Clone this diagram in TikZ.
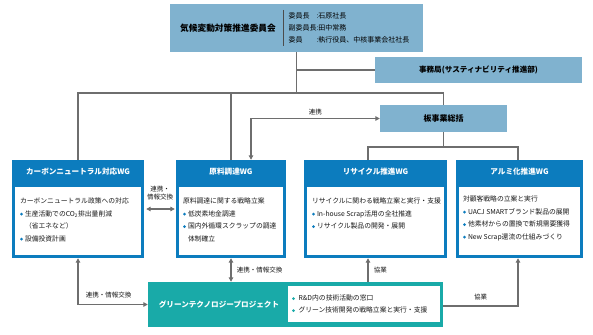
\documentclass[tikz,border=0pt]{standalone}
\usepackage{fontspec}
\setmainfont{Noto Sans CJK JP}
\usetikzlibrary{arrows.meta,positioning}

\definecolor{boardblue}{RGB}{128,178,207}
\definecolor{wgblue}{RGB}{12,124,190}
\definecolor{gtpteal}{RGB}{25,170,168}
\definecolor{linkgray}{RGB}{110,110,110}

\newcommand{\bul}[1][wgblue]{\tikz[baseline=-0.55ex]\fill[#1] (0,0) circle (1.5pt);\hspace{2pt}}
\newcommand{\bulsp}{\hphantom{\bul}}

\begin{document}
\begin{tikzpicture}[x=1pt, y=-1pt, >={Triangle[length=4.5pt,width=4.5pt]},
font=\fontsize{6.8}{12.5}\selectfont,
link/.style={draw=linkgray, line width=1.2pt},
lightbox/.style={fill=boardblue, inner sep=0pt},
wg/.style={fill=wgblue, inner sep=0pt, minimum height=98pt},
wgtitle/.style={text=white, font=\fontsize{7.6}{9}\selectfont\bfseries},
wgbody/.style={fill=white, inner sep=0pt, minimum height=68pt},
wgtext/.style={anchor=north west, align=left, inner sep=2pt, text=black!90},
note/.style={font=\fontsize{6.5}{8}\selectfont, text=black!90}]

    \useasboundingbox (0,0) rectangle (593,334);

    % committee and secretariat
    \node[lightbox, minimum width=253pt, minimum height=48pt] (COMMITTEE) at (296.5,28) {};
    \node[font=\fontsize{8.7}{10}\selectfont\bfseries] (COMMITTEE_T) at (228,28) {気候変動対策推進委員会};
    \draw[black!70, line width=0.6pt] (283,10) -- (283,46);
    \node[anchor=west, font=\fontsize{7}{12}\selectfont] (COMMITTEE_M) at (285,28)
        {\begin{tabular}{@{}l@{}l@{}}委員長&:石原社長\\副委員長&:田中常務\\委員&:執行役員、中核事業会社社長\end{tabular}};
    \node[lightbox, minimum width=207pt, minimum height=26pt, font=\fontsize{7.6}{9}\selectfont\bfseries]
        (SECRETARIAT) at (478.5,70) {事務局(サスティナビリティ推進部)};
    \node[lightbox, minimum width=127pt, minimum height=27pt, font=\fontsize{8}{9}\selectfont\bfseries]
        (ITA_HQ) at (443.5,118.5) {板事業総括};

    % working groups
    \node[wg, minimum width=132pt] (CN_WG) at (78,209) {};
    \node[wgtitle] at (78,171.5) {カーボンニュートラル対応WG};
    \node[wgbody, minimum width=126pt] (CN_BODY) at (78,221) {};
    \node[wgtext] at ([xshift=3pt,yshift=-9pt]CN_BODY.north west)
        {カーボンニュートラル政策への対応\\
         \bul 生産活動でのCO\textsubscript{2}排出量削減\\
         \bulsp （省エネなど）\\
         \bul 設備投資計画};

    \node[wg, minimum width=110pt] (RM_WG) at (231,209) {};
    \node[wgtitle] at (231,171.5) {原料調達WG};
    \node[wgbody, minimum width=104pt] (RM_BODY) at (231,221) {};
    \node[wgtext] at ([xshift=2pt,yshift=-9pt]RM_BODY.north west)
        {原料調達に関する戦略立案\\
         \bul 低炭素地金調達\\
         \bul 国内外循環スクラップの調達\\
         \bulsp 体制確立};

    \node[wg, minimum width=143pt] (RC_WG) at (375.5,209) {};
    \node[wgtitle] at (375.5,171.5) {リサイクル推進WG};
    \node[wgbody, minimum width=137pt] (RC_BODY) at (375.5,221) {};
    \node[wgtext] at ([xshift=3pt,yshift=-9pt]RC_BODY.north west)
        {リサイクルに関わる戦略立案と実行・支援\\
         \bul In-house Scrap活用の全社推進\\
         \bul リサイクル製品の開発・展開};

    \node[wg, minimum width=127pt] (AL_WG) at (519.5,209) {};
    \node[wgtitle] at (519.5,171.5) {アルミ化推進WG};
    \node[wgbody, minimum width=121pt] (AL_BODY) at (519.5,221) {};
    \node[wgtext] at ([xshift=2pt,yshift=-7pt]AL_BODY.north west)
        {対顧客戦略の立案と実行\\
         \bul UACJ SMARTブランド製品の展開\\
         \bul 他素材からの置換で新規需要獲得\\
         \bul New Scrap還流の仕組みづくり};

    % green technology project
    \node[fill=gtpteal, inner sep=0pt, minimum width=295pt, minimum height=45pt] (GTP) at (295.5,304.5) {};
    \node[wgtitle] at (219,305) {グリーンテクノロジープロジェクト};
    \node[fill=white, inner sep=0pt, minimum width=152pt, minimum height=36pt] (GTP_BODY) at (364,304) {};
    \node[anchor=west, align=left, inner sep=2pt, font=\fontsize{6.8}{12}\selectfont, text=black!90]
        at ([xshift=2pt]GTP_BODY.west)
        {\bul[gtpteal] R\&D内の技術活動の窓口\\
         \bul[gtpteal] グリーン技術開発の戦略立案と実行・支援};

    % connectors
    \coordinate (HUB) at (297,93);
    \coordinate (SPLIT) at (443.5,147);
    \draw[link] (COMMITTEE.south) -- (COMMITTEE.south |- HUB);
    \draw[link] (COMMITTEE.south |- SECRETARIAT.west) -- (SECRETARIAT.west);
    \draw[link] (CN_WG.north) |- (ITA_HQ.north |- HUB) -- (ITA_HQ.north);
    \draw[link] (RM_WG.north) -- (RM_WG.north |- HUB);
    \draw[link, <->] (ITA_HQ.west) -| ([xshift=20pt]RM_WG.north)
        node[note, pos=0.25, above] {連携};
    \draw[link] (ITA_HQ.south) -- (SPLIT);
    \draw[link] ([xshift=-7.5pt]RC_WG.north) |- (SPLIT) -| ([xshift=-1.5pt]AL_WG.north);

    \draw[link, <->, shorten <=2pt, shorten >=1pt] (CN_WG.east) -- (RM_WG.west)
        node[note, midway, above=5pt, align=center] {連携・\\情報交換};
    \draw[link, <->] (CN_WG.south) |- (GTP.west)
        node[note, pos=0.72, above=3pt] {連携・情報交換};
    \draw[link, <->] (RM_WG.south) -- (RM_WG.south |- GTP.north)
        node[note, midway, right=2pt] {連携・情報交換};
    \draw[link, ->] ([xshift=-7.5pt]RC_WG.south |- GTP.north) -- ([xshift=-7.5pt]RC_WG.south)
        node[note, midway, right=2pt] {協業};
    \draw[link, ->] ([yshift=-1.5pt]GTP.east) -| ([xshift=-1.5pt]AL_WG.south)
        node[note, pos=0.25, above=2pt] {協業};
\end{tikzpicture}
\end{document}
